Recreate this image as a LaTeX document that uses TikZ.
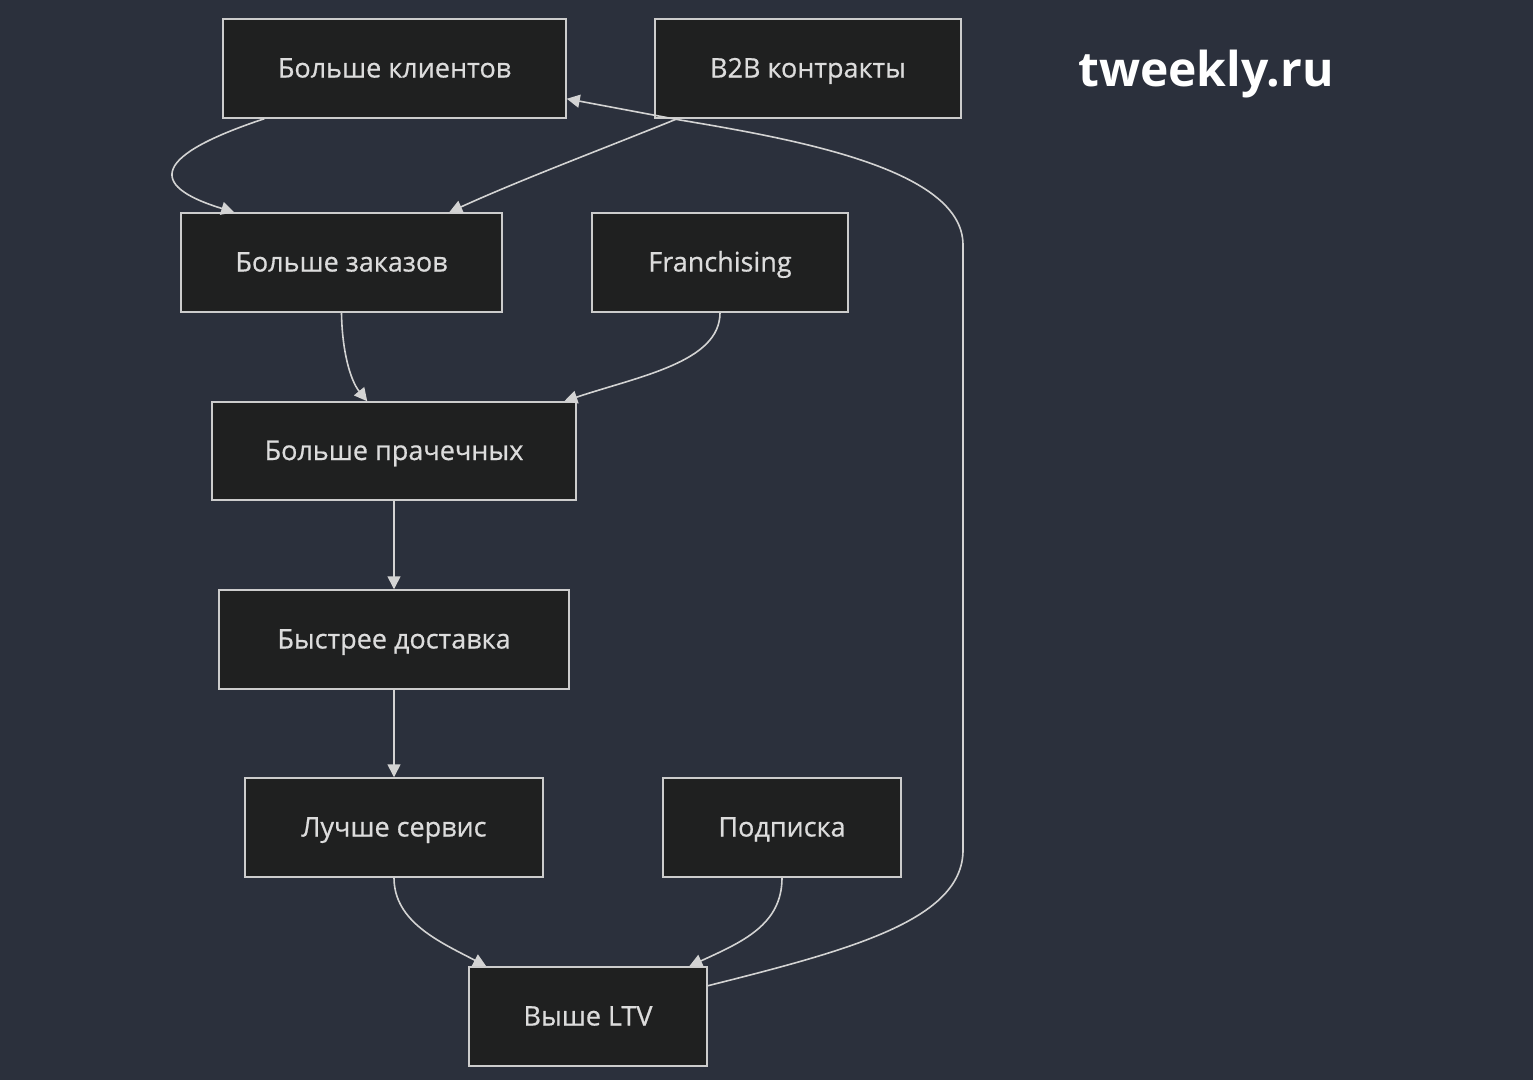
\documentclass[tikz,border=0pt]{standalone}
\usepackage{fontspec}
\setmainfont{Open Sans}
\newfontfamily\boxfont[FakeBold=0.6]{Open Sans}
\usetikzlibrary{arrows.meta}
\definecolor{bgc}{RGB}{43,48,60}
\definecolor{boxfill}{RGB}{31,32,32}
\definecolor{boxline}{RGB}{204,204,204}
\definecolor{txt}{RGB}{220,220,220}
\definecolor{edge}{RGB}{211,211,211}
\begin{document}
\begin{tikzpicture}[x=1pt,y=-1pt,
  box/.style={draw=boxline, line width=1.5pt, fill=boxfill, text=txt, inner sep=0pt,
    font=\boxfont\fontsize{27}{32}\selectfont, text height=22pt, text depth=4pt, anchor=center},
  conn/.style={draw=edge, line width=1.6pt, -{Triangle[length=13pt,width=13pt]}}]
\fill[bgc] (0,0) rectangle (1533,1080);
\useasboundingbox (0,0) rectangle (1533,1080);
\node[box, minimum width=343pt, minimum height=99pt] (A) at (394.5,68.5) {Больше клиентов};
\node[box, minimum width=306pt, minimum height=99pt] (B) at (808,68.5) {B2B контракты};
\node[box, minimum width=321pt, minimum height=99pt] (C) at (341.5,262.5) {Больше заказов};
\node[box, minimum width=256pt, minimum height=99pt] (D) at (720,262.5) {Franchising};
\node[box, minimum width=364pt, minimum height=98pt] (E) at (394,451) {Больше прачечных};
\node[box, minimum width=350pt, minimum height=99pt] (F) at (394,639.5) {Быстрее доставка};
\node[box, minimum width=298pt, minimum height=99pt] (G) at (394,827.5) {Лучше сервис};
\node[box, minimum width=238pt, minimum height=99pt] (H) at (782,827.5) {Подписка};
\node[box, minimum width=238pt, minimum height=99pt] (I) at (588,1016.5) {Выше LTV};
\node[text=white, font=\fontsize{48}{56}\selectfont\bfseries, anchor=center] (W) at (1206,74) {tweekly.ru};
% edges
\draw[conn] ([xshift=42pt]A.south west) .. controls (155,155) and (145,185) .. ([xshift=54pt]C.north west);
\draw[conn] ([xshift=23pt]B.south west) .. controls (600,150) and (520,180) .. ([xshift=269pt]C.north west);
\draw[conn] (C.south) .. controls (342,350) and (350,380) .. ([xshift=156pt]E.north west);
\draw[conn] (D.south) .. controls (720,362) and (640,376) .. ([xshift=353pt]E.north west);
\draw[conn] (E) -- (F);
\draw[conn] (F) -- (G);
\draw[conn] (G.south) .. controls (394,922) and (440,942) .. ([xshift=18pt]I.north west);
\draw[conn] (H.south) .. controls (782,925) and (742,942) .. ([xshift=221pt]I.north west);
\draw[conn] ([yshift=81pt]I.south east) .. controls (850,950) and (963,920) .. (963,850) -- (963,245)
  .. controls (963,170) and (800,140) .. (680,120) -- ([yshift=20pt]A.south east);
\end{tikzpicture}
\end{document}
